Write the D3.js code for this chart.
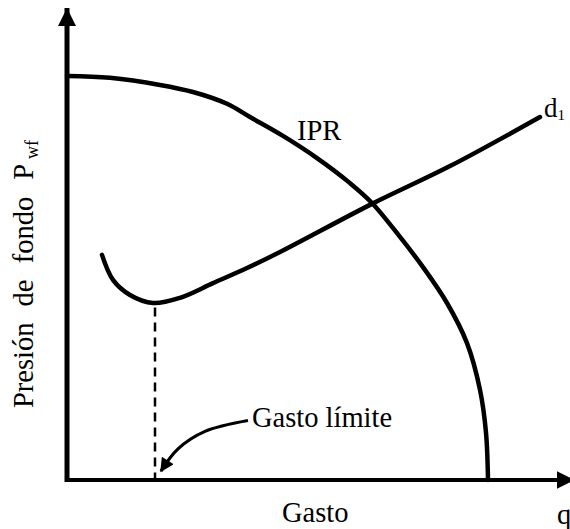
<!DOCTYPE html>
<html>
<head>
<meta charset="utf-8">
<script src="https://cdn.jsdelivr.net/npm/d3@7"></script>
<style>
  body { margin: 0; background: #fff; }
  svg text { font-family: "Liberation Serif", "DejaVu Serif", serif; fill: #000; }
</style>
</head>
<body>
<svg id="chart"></svg>
<script>
// Curves (q = gasto, p = presión, in % of the axis length)
var iprQ = [0, 8.6, 18.6, 25.2, 32.0, 36.6, 43.2, 50.0, 56.6, 61.0, 66.6, 71.2, 76.0, 80.0, 82.6, 83.8, 84.2];
var iprP = [85.6, 85.2, 83.7, 82.2, 79.7, 76.9, 72.9, 68.2, 62.9, 58.7, 51.5, 45.1, 37.5, 29.0, 19.1, 10.0, 0];

var d1Q = [7.0, 9.2, 12.6, 17.2, 22.6, 29.2, 36.0, 42.6, 61.0, 76.6, 94.6];
var d1P = [47.7, 42.4, 39.2, 37.5, 38.6, 41.7, 44.9, 48.3, 58.5, 66.5, 76.9];

// gasto límite (minimum of d1)
var limitQ = 17.6, limitP = 37.2;

var width = 570, height = 529;

var x = d3.scaleLinear().domain([0, 100]).range([67, 567]);
var y = d3.scaleLinear().domain([0, 100]).range([480, 8]);

var svg = d3.select("#chart")
    .attr("width", width)
    .attr("height", height);

var defs = svg.append("defs");
defs.append("marker")
    .attr("id", "axisHead")
    .attr("viewBox", "0 0 10 10")
    .attr("refX", 10).attr("refY", 5)
    .attr("markerUnits", "userSpaceOnUse")
    .attr("markerWidth", 18).attr("markerHeight", 20)
    .attr("orient", "auto")
  .append("path")
    .attr("d", "M0,0 L10,5 L0,10 Z")
    .attr("fill", "#000");

defs.append("marker")
    .attr("id", "noteHead")
    .attr("viewBox", "0 0 10 10")
    .attr("refX", 9).attr("refY", 5)
    .attr("markerUnits", "userSpaceOnUse")
    .attr("markerWidth", 16).attr("markerHeight", 14)
    .attr("orient", "auto")
  .append("path")
    .attr("d", "M0,0 L10,5 L0,10 Z")
    .attr("fill", "#000");

// Axes
svg.append("line")
    .attr("x1", x(0)).attr("y1", y(0) + 2)
    .attr("x2", x(0)).attr("y2", y(100))
    .attr("stroke", "#000").attr("stroke-width", 5)
    .attr("marker-end", "url(#axisHead)");

svg.append("line")
    .attr("x1", x(0) - 2).attr("y1", y(0))
    .attr("x2", x(101.5)).attr("y2", y(0))
    .attr("stroke", "#000").attr("stroke-width", 4)
    .attr("marker-end", "url(#axisHead)");

var line = d3.line()
    .x(function(d) { return x(d[0]); })
    .y(function(d) { return y(d[1]); })
    .curve(d3.curveCatmullRom.alpha(0.5));

// IPR curve
svg.append("path")
    .datum(d3.zip(iprQ, iprP))
    .attr("d", line)
    .attr("fill", "none")
    .attr("stroke", "#000")
    .attr("stroke-width", 4.5)
    .attr("stroke-linecap", "round");

// d1 curve
svg.append("path")
    .datum(d3.zip(d1Q, d1P))
    .attr("d", line)
    .attr("fill", "none")
    .attr("stroke", "#000")
    .attr("stroke-width", 4.5)
    .attr("stroke-linecap", "round");

// dashed line down to the limit rate
svg.append("line")
    .attr("x1", x(limitQ)).attr("y1", y(limitP) + 3)
    .attr("x2", x(limitQ)).attr("y2", y(0))
    .attr("stroke", "#000")
    .attr("stroke-width", 2.5)
    .attr("stroke-dasharray", "9,6");

// annotation arrow
var notePts = [[36.2, 12.6], [27.6, 10.3], [22.2, 6.6], [18.8, 1.9]];
svg.append("path")
    .datum(notePts)
    .attr("d", d3.line()
        .x(function(d) { return x(d[0]); })
        .y(function(d) { return y(d[1]); })
        .curve(d3.curveCatmullRom.alpha(0.5)))
    .attr("fill", "none")
    .attr("stroke", "#000")
    .attr("stroke-width", 3.2)
    .attr("marker-end", "url(#noteHead)");

// Labels
var fs = 28.5;

svg.append("text")
    .attr("x", x(46)).attr("y", y(72))
    .attr("font-size", fs)
    .text("IPR");

var d1Label = svg.append("text")
    .attr("x", 544).attr("y", 117)
    .attr("font-size", 27)
    .text("d");
d1Label.append("tspan")
    .attr("font-size", 15)
    .attr("dy", 3)
    .text("1");

svg.append("text")
    .attr("x", x(37)).attr("y", y(11.2))
    .attr("font-size", fs)
    .text("Gasto límite");

svg.append("text")
    .attr("x", 282).attr("y", 522)
    .attr("font-size", fs)
    .text("Gasto");

svg.append("text")
    .attr("x", 557).attr("y", 524)
    .attr("font-size", fs)
    .text("q");

var yLabel = svg.append("text")
    .attr("transform", "translate(33,408) rotate(-90)")
    .attr("font-size", fs)
    .attr("word-spacing", 9)
    .text("Presión de fondo");
yLabel.append("tspan")
    .attr("dx", 17)
    .text("P");
yLabel.append("tspan")
    .attr("font-size", 18)
    .attr("dx", 5)
    .attr("dy", 5)
    .text("wf");
</script>
</body>
</html>
